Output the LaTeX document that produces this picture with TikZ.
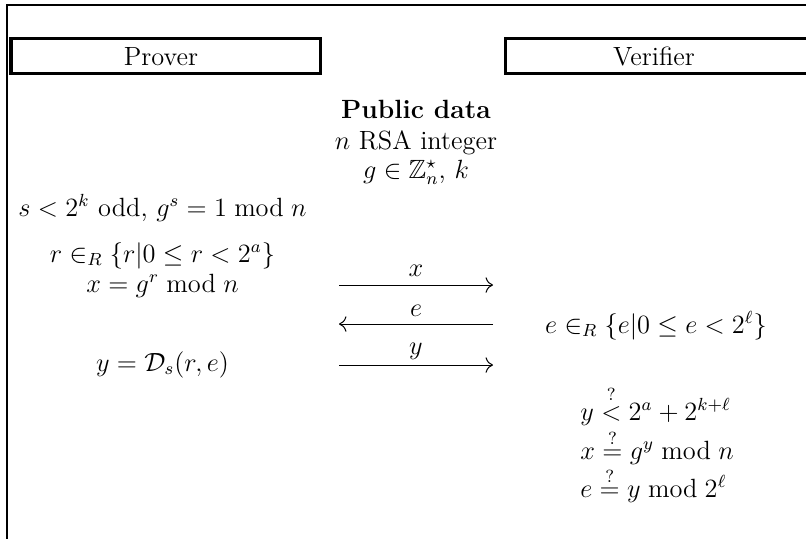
\documentclass[tikz,border=0pt]{standalone}
\usepackage{amssymb}
\usetikzlibrary{arrows.meta}
\begin{document}
\begin{tikzpicture}[x=0.455pt,y=-0.455pt,
  font=\large,
  txt/.style={inner sep=0pt, anchor=base},
  rolebox/.style={draw, line width=1.37pt, inner sep=0pt},
  frameline/.style={line width=0.91pt},
  msg/.style={line width=0.455pt, -{Computer Modern Rightarrow[scale=1.3]}},
  lbl/.style={midway, anchor=base, inner sep=0pt}]
\useasboundingbox (0,0) rectangle (806,538);
% outer frame (left and top sides)
\coordinate (fb) at (7,550);
\coordinate (fc) at (7,5);
\coordinate (fr) at (820,5);
\draw[frameline] (fb) -- (fc) -- (fr);
% role boxes
\node[rolebox, minimum width=140.6pt, minimum height=15.5pt] (proverbox) at (165.5,56) {};
\node[txt] (prover) at (161,65) {Prover};
\node[rolebox, minimum width=143.3pt, minimum height=15.5pt] (verifierbox) at (662.5,56) {};
\node[txt] (verifier) at (654,65) {Verifier};
% public data
\node[txt] (public) at (416,118) {\textbf{Public data}};
\node[txt] (pubn) at (416,149) {$n$ RSA integer};
\node[txt] (pubg) at (416,178) {$g\in\mathbb{Z}_n^\star$, $k$};
% prover side
\node[txt] (secret) at (162.5,216) {$s<2^k$ odd, $g^s=1 \bmod n$};
\node[txt] (rchoice) at (162.5,262) {$r\in_R\{r|0\le r<2^a\}$};
\node[txt] (xcomp) at (162.5,292) {$x=g^r \bmod n$};
\node[txt] (ycomp) at (162.5,371) {$y=\mathcal{D}_s(r,e)$};
% verifier side
\node[txt] (echoice) at (656,333) {$e\in_R\{e|0\le e<2^\ell\}$};
\node[txt, anchor=base west] (chk1) at (580,420) {$y\stackrel{?}{<}2^a+2^{k+\ell}$};
\node[txt, anchor=base west] (chk2) at (580,459) {$x\stackrel{?}{=}g^y \bmod n$};
\node[txt, anchor=base west] (chk3) at (580,497) {$e\stackrel{?}{=}y \bmod 2^\ell$};
% messages
\coordinate (xa) at (339,285); \coordinate (xb) at (493,285);
\coordinate (ea) at (339,324); \coordinate (eb) at (493,324);
\coordinate (ya) at (339,365); \coordinate (yb) at (493,365);
\draw[msg] (xa) -- node[lbl, yshift=3.8pt] {$x$} (xb);
\draw[msg] (eb) -- node[lbl, yshift=3.4pt] {$e$} (ea);
\draw[msg] (ya) -- node[lbl, yshift=5pt] {$y$} (yb);
\end{tikzpicture}
\end{document}
